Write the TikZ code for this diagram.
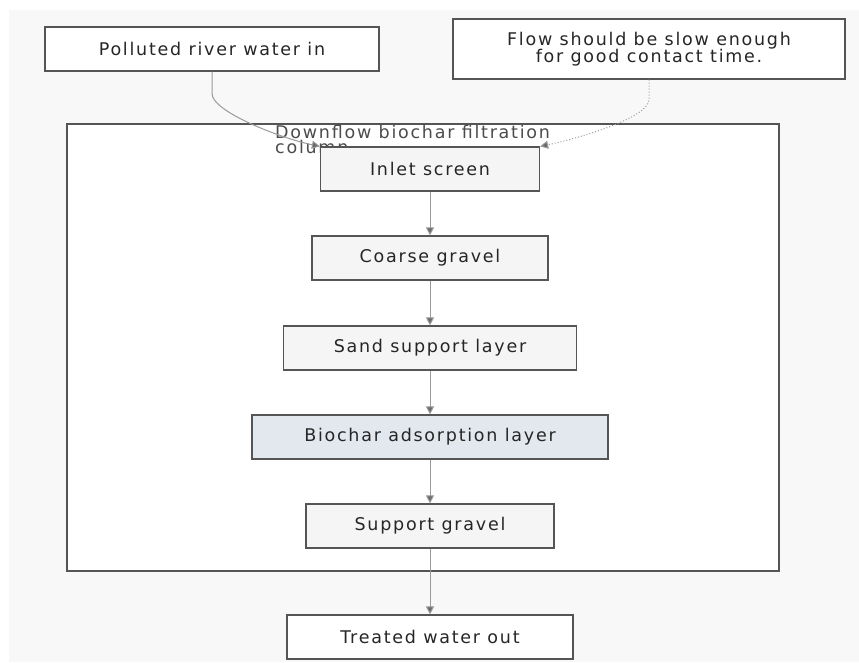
\documentclass[tikz,border=0pt]{standalone}
\usepackage{fontspec}
\setmainfont{DejaVu Sans}[LetterSpace=10]
\usetikzlibrary{arrows.meta}
\definecolor{pagegray}{HTML}{F8F8F8}
\definecolor{boxgray}{HTML}{F5F5F5}
\definecolor{charblue}{HTML}{E3E8EF}
\definecolor{edgegray}{HTML}{9A9A9A}
\definecolor{tipgray}{HTML}{6A6A6A}
\definecolor{linegray}{HTML}{555555}
\begin{document}
\begin{tikzpicture}[x=1pt,y=-1pt]
    \tikzstyle{every node}+=[font=\fontsize{17.5}{17}\selectfont, text=black!85]
    \tikzstyle{layer}=[draw=linegray, line width=1.2pt, fill=boxgray, minimum height=44pt, inner sep=0pt]
    \tikzstyle{flow}=[draw=edgegray, line width=1pt, -{Triangle[length=8pt,width=8pt,fill=tipgray]}]
    \useasboundingbox (0,0) rectangle (859,662);
    \fill [white] (0,0) rectangle (859,662);
    \fill [pagegray] (9,10) rectangle (859,662);
    % column frame
    \draw [linegray, line width=1.2pt, fill=white] (67,124) rectangle (779,571);
    \node (title) [anchor=north west, align=left, inner sep=0pt, text=black!70, font=\fontsize{17.5}{13}\selectfont] at (275,125) {Downflow biochar filtration\\column};
    % outside boxes
    \node (river) [layer, fill=white, minimum width=334pt] at (212,49) {Polluted river water in};
    \node (note) [layer, fill=white, minimum width=392pt, minimum height=60pt, align=center] at (649,49) {Flow should be slow enough\\for good contact time.};
    \node (out) [layer, fill=white, minimum width=286pt] at (430,637) {Treated water out};
    % layers
    \node (screen) [layer, minimum width=219pt] at (430,169) {Inlet screen};
    \node (coarse) [layer, minimum width=236pt] at (430,258) {Coarse gravel};
    \node (sand) [layer, minimum width=293pt] at (430,348) {Sand support layer};
    \node (char) [layer, fill=charblue, minimum width=356pt] at (430,437) {Biochar adsorption layer};
    \node (gravel) [layer, minimum width=248pt] at (430,526) {Support gravel};
    % connectors
    \draw [flow] (river.south) -- ++(0,22) .. controls +(0,18) and (280,138) .. (screen.north west);
    \draw [flow, dotted] (note.south) -- ++(0,20) .. controls +(0,18) and (580,138) .. (screen.north east);
    \draw [flow] (screen) -- (coarse);
    \draw [flow] (coarse) -- (sand);
    \draw [flow] (sand) -- (char);
    \draw [flow] (char) -- (gravel);
    \draw [flow] (gravel) -- (out);
\end{tikzpicture}
\end{document}
